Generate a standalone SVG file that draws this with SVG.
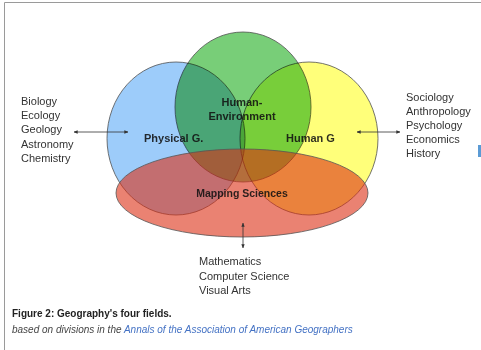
<svg xmlns="http://www.w3.org/2000/svg" width="481" height="350" viewBox="0 0 481 350">
<defs>
<style>
.shape{stroke:#505050;stroke-width:0.8;mix-blend-mode:multiply}
.lbl{font-family:"Liberation Sans",Arial,sans-serif;font-weight:bold;font-size:11px;fill:#111;fill-opacity:0.88}
.lst{font-family:"Liberation Sans",Arial,sans-serif;font-size:11px;fill:#333}
.cap{font-family:"Liberation Sans",Arial,sans-serif;font-size:10px}
.conn{stroke:#333;stroke-width:0.8;fill:none;marker-start:url(#ah);marker-end:url(#ah)}
</style>
<marker id="ah" viewBox="0 0 6 6" refX="5.5" refY="3" markerWidth="4" markerHeight="4" markerUnits="userSpaceOnUse" orient="auto-start-reverse"><path d="M0,0.5 L6,3 L0,5.5 z" fill="#333"/></marker>
</defs>
<rect width="481" height="350" fill="#fff"/>
<path d="M481,2.5 H4.5 V350" fill="none" stroke="#9a9a9a" stroke-width="1"/>
<rect x="478" y="145" width="3" height="12" fill="#5b9bd5"/>

<g id="physical">
<ellipse class="shape" cx="176" cy="138.5" rx="69" ry="76.5" fill="#9dccfa"/>
</g>
<g id="human">
<ellipse class="shape" cx="309" cy="138.5" rx="69" ry="76.5" fill="#ffff7a"/>
</g>
<g id="human-environment">
<ellipse class="shape" cx="243" cy="107" rx="68" ry="75" fill="#78ce78"/>
</g>
<g id="mapping">
<ellipse cx="242" cy="193" rx="126" ry="44" fill="rgb(220,47,20)" fill-opacity="0.6" stroke="#555" stroke-width="0.8"/>
</g>

<g id="labels">
<text class="lbl" x="144" y="142">Physical G.</text>
<text class="lbl" x="286" y="142">Human G</text>
<text class="lbl" x="242" y="106" text-anchor="middle">Human-</text>
<text class="lbl" x="242" y="120" text-anchor="middle">Environment</text>
<text class="lbl" x="242" y="197" text-anchor="middle" style="font-size:10.5px">Mapping Sciences</text>
</g>

<g id="physical-fields" class="lst">
<text x="21" y="105">Biology</text>
<text x="21" y="119.2">Ecology</text>
<text x="21" y="133.4">Geology</text>
<text x="21" y="147.6">Astronomy</text>
<text x="21" y="161.8">Chemistry</text>
</g>
<g id="human-fields" class="lst">
<text x="406" y="101">Sociology</text>
<text x="406" y="115">Anthropology</text>
<text x="406" y="129">Psychology</text>
<text x="406" y="143.2">Economics</text>
<text x="406" y="157.4">History</text>
</g>
<g id="mapping-fields" class="lst">
<text x="199" y="265.2">Mathematics</text>
<text x="199" y="279.6">Computer Science</text>
<text x="199" y="294">Visual Arts</text>
</g>

<g id="connectors">
<line class="conn" x1="128" y1="132" x2="74" y2="132"/>
<line class="conn" x1="357" y1="132" x2="400" y2="132"/>
<line class="conn" x1="243" y1="223" x2="243" y2="248"/>
</g>

<g id="caption" class="cap">
<text x="12" y="316.5" font-weight="bold" fill="#222">Figure 2: Geography's four fields.</text>
<text x="12" y="333" font-style="italic" fill="#444">based on divisions in the <tspan fill="#4472c4">Annals of the Association of American Geographers</tspan></text>
</g>
</svg>
